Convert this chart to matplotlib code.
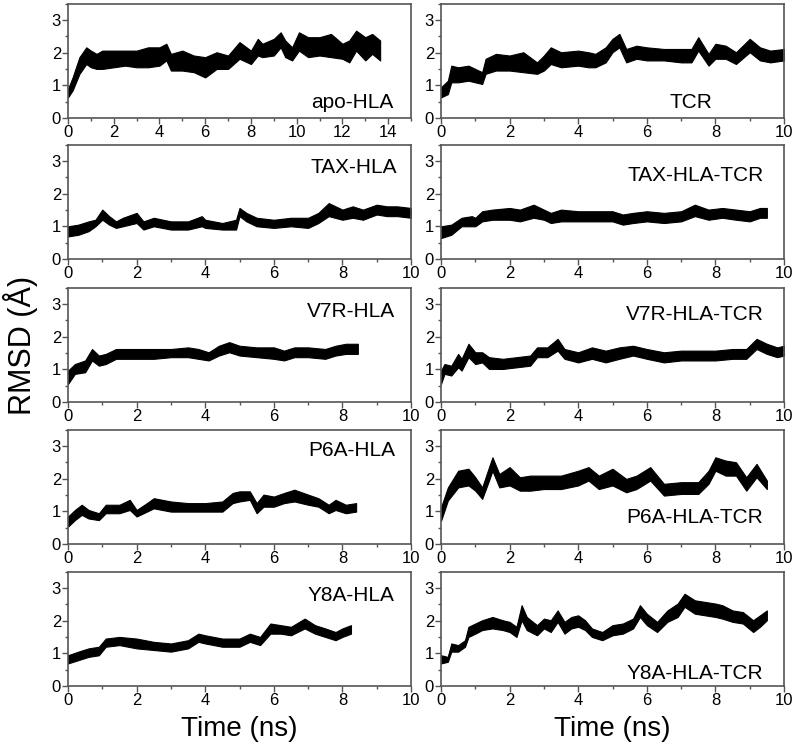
import numpy as np
import matplotlib
matplotlib.use("Agg")
import matplotlib.pyplot as plt
from matplotlib.ticker import MultipleLocator

plt.rcParams['font.family'] = ['Liberation Sans', 'DejaVu Sans']

# ---------------- data (time in ns, RMSD band low/high in Angstrom) ----------------
apo_t  = [0, 0.2, 0.5, 0.8, 1.0, 1.25, 1.5, 2, 2.5, 3, 3.5, 4, 4.3, 4.5, 5, 5.5, 6, 6.5, 7, 7.5, 8, 8.3, 8.5, 9, 9.3, 9.5, 9.8, 10.1, 10.5, 11, 11.5, 12, 12.3, 12.6, 13, 13.3, 13.65]
apo_hi = [0.89, 1.24, 1.86, 2.16, 2.06, 1.96, 2.06, 2.06, 2.06, 2.06, 2.16, 2.16, 2.27, 1.96, 2.06, 1.91, 1.86, 2.01, 1.91, 2.32, 2.06, 2.42, 2.27, 2.42, 2.62, 2.37, 2.16, 2.62, 2.47, 2.47, 2.57, 2.27, 2.37, 2.67, 2.47, 2.57, 2.37]
apo_lo = [0.63, 0.84, 1.35, 1.65, 1.55, 1.50, 1.50, 1.55, 1.60, 1.55, 1.55, 1.60, 1.76, 1.45, 1.45, 1.40, 1.24, 1.50, 1.50, 1.81, 1.65, 1.91, 1.86, 1.91, 2.16, 1.86, 1.76, 2.06, 1.86, 1.91, 1.86, 1.81, 1.70, 2.06, 1.76, 1.96, 1.76]

tcr_t  = [0, 0.2, 0.3, 0.5, 0.8, 1.0, 1.2, 1.3, 1.6, 2, 2.4, 2.8, 3.0, 3.2, 3.5, 4, 4.3, 4.5, 4.8, 5.0, 5.2, 5.4, 5.7, 6, 6.5, 7, 7.3, 7.5, 7.8, 8, 8.3, 8.6, 9.0, 9.3, 9.6, 10]
tcr_hi = [0.94, 1.14, 1.60, 1.55, 1.60, 1.50, 1.40, 1.81, 1.96, 1.91, 2.01, 1.70, 1.91, 2.16, 2.01, 2.06, 2.01, 1.96, 2.16, 2.42, 2.57, 2.11, 2.21, 2.16, 2.11, 2.11, 2.11, 2.47, 1.96, 2.27, 2.21, 2.01, 2.42, 2.16, 2.06, 2.11]
tcr_lo = [0.63, 0.73, 1.09, 1.09, 1.14, 1.09, 1.04, 1.35, 1.45, 1.45, 1.40, 1.35, 1.45, 1.65, 1.55, 1.60, 1.55, 1.55, 1.70, 2.01, 2.16, 1.70, 1.81, 1.76, 1.76, 1.70, 1.70, 2.06, 1.60, 1.81, 1.81, 1.65, 2.01, 1.76, 1.70, 1.76]

tax_t  = [0, 0.3, 0.6, 0.8, 1.0, 1.2, 1.4, 1.6, 2.0, 2.2, 2.5, 3.0, 3.5, 3.9, 4.0, 4.5, 4.9, 5.0, 5.2, 5.5, 6.0, 6.5, 7.0, 7.3, 7.6, 8.0, 8.3, 8.6, 9.0, 9.3, 9.6, 10.0]
tax_hi = [1.00, 1.05, 1.15, 1.20, 1.51, 1.31, 1.15, 1.26, 1.41, 1.15, 1.26, 1.15, 1.15, 1.31, 1.20, 1.10, 1.20, 1.56, 1.41, 1.26, 1.20, 1.26, 1.26, 1.41, 1.71, 1.51, 1.61, 1.51, 1.66, 1.61, 1.61, 1.56]
tax_lo = [0.69, 0.74, 0.85, 1.00, 1.20, 1.05, 0.95, 1.00, 1.10, 0.90, 1.00, 0.90, 0.90, 1.00, 0.95, 0.90, 0.90, 1.31, 1.15, 1.00, 0.95, 1.00, 0.95, 1.10, 1.31, 1.20, 1.26, 1.20, 1.36, 1.31, 1.31, 1.26]

taxtcr_t  = [0, 0.3, 0.6, 0.9, 1.0, 1.2, 1.5, 2.0, 2.3, 2.7, 3.0, 3.2, 3.5, 4, 4.5, 5, 5.3, 5.6, 6, 6.5, 7, 7.4, 7.8, 8.2, 8.6, 9.0, 9.3, 9.5]
taxtcr_hi = [1.00, 1.05, 1.26, 1.31, 1.26, 1.46, 1.51, 1.56, 1.51, 1.66, 1.51, 1.41, 1.51, 1.46, 1.46, 1.46, 1.36, 1.41, 1.46, 1.41, 1.46, 1.66, 1.51, 1.56, 1.51, 1.46, 1.56, 1.56]
taxtcr_lo = [0.64, 0.74, 1.00, 1.00, 1.00, 1.15, 1.20, 1.20, 1.15, 1.26, 1.20, 1.10, 1.15, 1.15, 1.15, 1.15, 1.05, 1.10, 1.15, 1.10, 1.15, 1.31, 1.20, 1.26, 1.20, 1.15, 1.26, 1.26]

v7r_t  = [0, 0.2, 0.5, 0.7, 0.9, 1.1, 1.4, 2, 2.5, 3, 3.5, 3.8, 4.1, 4.4, 4.7, 5, 5.5, 6, 6.3, 6.6, 7, 7.5, 7.8, 8.1, 8.45]
v7r_hi = [0.96, 1.16, 1.27, 1.62, 1.42, 1.47, 1.62, 1.62, 1.62, 1.62, 1.67, 1.62, 1.52, 1.72, 1.83, 1.72, 1.67, 1.67, 1.57, 1.67, 1.67, 1.62, 1.72, 1.78, 1.78]
v7r_lo = [0.55, 0.86, 0.91, 1.27, 1.11, 1.16, 1.32, 1.32, 1.32, 1.37, 1.37, 1.32, 1.27, 1.42, 1.52, 1.42, 1.37, 1.32, 1.27, 1.37, 1.37, 1.32, 1.42, 1.47, 1.47]

v7rtcr_t  = [0, 0.1, 0.3, 0.5, 0.6, 0.8, 1.0, 1.2, 1.4, 1.8, 2.2, 2.6, 2.8, 3.1, 3.4, 3.6, 4, 4.4, 4.8, 5.2, 5.6, 6, 6.5, 7, 7.5, 8, 8.5, 8.9, 9.2, 9.5, 9.8, 10]
v7rtcr_hi = [0.96, 1.16, 1.11, 1.47, 1.32, 1.78, 1.52, 1.52, 1.37, 1.32, 1.37, 1.42, 1.67, 1.67, 1.93, 1.62, 1.52, 1.67, 1.57, 1.67, 1.72, 1.62, 1.52, 1.57, 1.57, 1.57, 1.62, 1.62, 1.93, 1.78, 1.67, 1.72]
v7rtcr_lo = [0.55, 0.86, 0.81, 1.06, 0.96, 1.37, 1.16, 1.21, 1.01, 1.01, 1.06, 1.11, 1.37, 1.37, 1.57, 1.32, 1.21, 1.32, 1.21, 1.32, 1.42, 1.32, 1.21, 1.27, 1.27, 1.27, 1.32, 1.32, 1.62, 1.47, 1.37, 1.42]

p6a_t  = [0, 0.2, 0.4, 0.6, 0.9, 1.1, 1.5, 1.8, 2.0, 2.3, 2.5, 3, 3.5, 4, 4.5, 4.8, 5.0, 5.3, 5.5, 5.7, 6, 6.3, 6.6, 7, 7.3, 7.6, 7.8, 8.1, 8.4]
p6a_hi = [0.84, 1.04, 1.20, 1.04, 0.94, 1.20, 1.20, 1.35, 1.04, 1.25, 1.40, 1.30, 1.25, 1.25, 1.30, 1.56, 1.61, 1.61, 1.25, 1.51, 1.45, 1.56, 1.66, 1.51, 1.40, 1.20, 1.35, 1.20, 1.25]
p6a_lo = [0.53, 0.73, 0.89, 0.78, 0.73, 0.94, 0.94, 1.04, 0.84, 0.99, 1.09, 0.99, 0.99, 0.99, 0.99, 1.25, 1.30, 1.35, 0.94, 1.14, 1.14, 1.25, 1.30, 1.20, 1.14, 0.94, 1.04, 0.94, 0.99]

p6atcr_t  = [0, 0.2, 0.5, 0.8, 1.0, 1.2, 1.4, 1.5, 1.7, 2, 2.3, 2.6, 3, 3.5, 4, 4.3, 4.6, 5, 5.4, 5.7, 6.1, 6.5, 7, 7.5, 7.8, 8.0, 8.3, 8.6, 8.9, 9.2, 9.5]
p6atcr_hi = [1.12, 1.73, 2.24, 2.30, 2.04, 1.73, 2.35, 2.65, 2.14, 2.35, 2.04, 2.09, 2.09, 2.09, 2.24, 2.35, 2.09, 2.30, 1.99, 2.09, 2.35, 1.84, 1.89, 1.89, 2.24, 2.65, 2.55, 2.50, 2.04, 2.45, 1.94]
p6atcr_lo = [0.71, 1.33, 1.73, 1.79, 1.63, 1.38, 1.94, 2.24, 1.73, 1.79, 1.63, 1.63, 1.68, 1.68, 1.79, 1.94, 1.68, 1.79, 1.58, 1.68, 1.94, 1.48, 1.53, 1.53, 1.84, 2.24, 2.09, 2.09, 1.63, 2.04, 1.68]

y8a_t  = [0, 0.3, 0.6, 0.9, 1.1, 1.5, 2, 2.5, 3, 3.5, 3.8, 4.0, 4.5, 5.0, 5.3, 5.6, 5.9, 6.2, 6.5, 6.9, 7.2, 7.5, 7.8, 8.0, 8.25]
y8a_hi = [0.94, 1.05, 1.15, 1.20, 1.45, 1.50, 1.45, 1.35, 1.30, 1.40, 1.60, 1.55, 1.45, 1.45, 1.60, 1.50, 1.91, 1.86, 1.81, 2.06, 1.86, 1.76, 1.65, 1.76, 1.86]
y8a_lo = [0.69, 0.79, 0.89, 0.94, 1.20, 1.25, 1.15, 1.10, 1.05, 1.15, 1.35, 1.30, 1.20, 1.20, 1.35, 1.25, 1.60, 1.60, 1.55, 1.76, 1.60, 1.50, 1.40, 1.50, 1.60]

y8atcr_t  = [0, 0.2, 0.3, 0.5, 0.7, 0.8, 1, 1.2, 1.5, 1.8, 2, 2.2, 2.35, 2.5, 2.8, 3.0, 3.2, 3.4, 3.6, 3.8, 4, 4.2, 4.4, 4.7, 5.0, 5.3, 5.6, 5.8, 6.0, 6.3, 6.6, 6.9, 7.1, 7.4, 7.7, 8, 8.2, 8.5, 8.8, 9.1, 9.3, 9.5]
y8atcr_hi = [0.94, 0.89, 1.30, 1.25, 1.40, 1.81, 1.91, 2.01, 2.11, 2.01, 1.96, 1.81, 2.47, 2.11, 1.86, 2.06, 2.01, 2.31, 1.96, 2.11, 2.16, 2.01, 1.76, 1.65, 1.86, 1.91, 2.06, 2.47, 2.21, 1.96, 2.31, 2.52, 2.82, 2.62, 2.57, 2.52, 2.47, 2.31, 2.26, 2.01, 2.16, 2.31]
y8atcr_lo = [0.69, 0.74, 1.05, 1.05, 1.20, 1.50, 1.60, 1.71, 1.76, 1.71, 1.65, 1.50, 2.01, 1.71, 1.55, 1.76, 1.65, 1.96, 1.60, 1.76, 1.81, 1.71, 1.50, 1.40, 1.55, 1.60, 1.76, 2.11, 1.86, 1.65, 1.96, 2.11, 2.42, 2.21, 2.16, 2.11, 2.06, 1.96, 1.91, 1.65, 1.81, 2.01]

labels = ["apo-HLA", "TCR", "TAX-HLA", "TAX-HLA-TCR", "V7R-HLA", "V7R-HLA-TCR",
          "P6A-HLA", "P6A-HLA-TCR", "Y8A-HLA", "Y8A-HLA-TCR"]
series = [(apo_t, apo_lo, apo_hi), (tcr_t, tcr_lo, tcr_hi),
          (tax_t, tax_lo, tax_hi), (taxtcr_t, taxtcr_lo, taxtcr_hi),
          (v7r_t, v7r_lo, v7r_hi), (v7rtcr_t, v7rtcr_lo, v7rtcr_hi),
          (p6a_t, p6a_lo, p6a_hi), (p6atcr_t, p6atcr_lo, p6atcr_hi),
          (y8a_t, y8a_lo, y8a_hi), (y8atcr_t, y8atcr_lo, y8atcr_hi)]
xmax = [15, 10, 10, 10, 10, 10, 10, 10, 10, 10]
# label positions in axes fraction (x = right edge, y = baseline)
label_pos = [(0.948, 0.09), (0.79, 0.09), (0.96, 0.75), (0.94, 0.68), (0.953, 0.74),
             (0.94, 0.72), (0.953, 0.765), (0.94, 0.18), (0.953, 0.742), (0.94, 0.058)]

# ---------------- figure ----------------
W, H = 796, 751
fig = plt.figure(figsize=(W / 100, H / 100), dpi=100)
spine_col = '#555555'
lefts = [68, 441]
pw = 343
tops = [3.5, 144.5, 287.5, 429.5, 571.5]
ph = 114.5

for i, (lab, (t, lo, hi)) in enumerate(zip(labels, series)):
    r, c = divmod(i, 2)
    ax = fig.add_axes([lefts[c] / W, 1 - (tops[r] + ph) / H, pw / W, ph / H])
    t = np.asarray(t); lo = np.asarray(lo); hi = np.asarray(hi)
    ax.fill_between(t, lo, hi, color='black', lw=0.8, edgecolor='black')
    ax.plot(t, (lo + hi) / 2, color='black', lw=0.8)
    ax.set_xlim(0, xmax[i])
    ax.set_ylim(0, 3.5)
    ax.xaxis.set_major_locator(MultipleLocator(2))
    ax.xaxis.set_minor_locator(MultipleLocator(1))
    ax.yaxis.set_major_locator(MultipleLocator(1))
    ax.yaxis.set_minor_locator(MultipleLocator(0.5))
    ax.tick_params(which='both', direction='out', top=False, right=False,
                   color=spine_col, labelsize=12, pad=1)
    ax.tick_params(which='major', length=4, width=1)
    ax.tick_params(which='minor', length=2.5, width=1)
    for s in ax.spines.values():
        s.set_color(spine_col)
        s.set_linewidth(1.2)
    ax.text(label_pos[i][0], label_pos[i][1], lab, transform=ax.transAxes,
            ha='right', va='baseline', fontsize=15)
    if r == 4:
        ax.set_xlabel('Time (ns)', fontsize=20, labelpad=6)

fig.text(20 / W, 1 - 345 / H, 'RMSD (Å)', rotation=90, ha='center', va='center', fontsize=22)

fig.savefig('out.png', dpi=100)
